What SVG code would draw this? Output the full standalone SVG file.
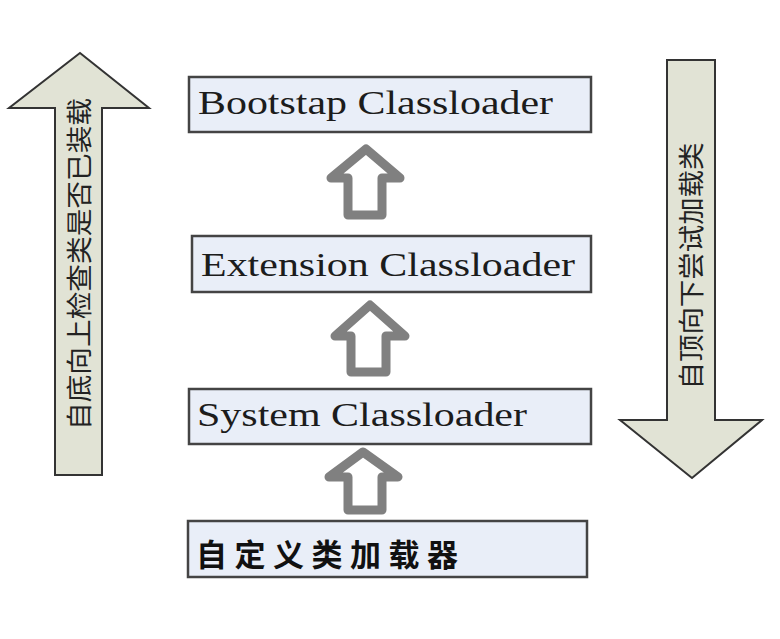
<svg xmlns="http://www.w3.org/2000/svg" width="780" height="639" viewBox="0 0 780 639">
<style>
.big{fill:#e1e3d5;stroke:#333;stroke-width:2;stroke-linejoin:miter}
.box{fill:#e9eef8;stroke:#444;stroke-width:2.5}
.hol{fill:#fff;stroke:#808080;stroke-width:9;stroke-linejoin:round}
.en{font-family:"Liberation Serif",serif;font-size:33px;fill:#1c1c1c}
.cjk{font-family:"Noto Sans CJK SC",sans-serif;font-size:26px;fill:#222}
.cjkb{font-family:"Noto Sans CJK SC",sans-serif;font-size:31px;font-weight:bold;fill:#111}
</style>
<rect width="780" height="639" fill="#fff"/>
<g id="left-arrow">
<path class="big" d="M80,53 L149,108 L102,108 L102,475 L55,475 L55,108 L9,108 Z"/>
<text class="cjk" transform="translate(77,264) rotate(-90)" text-anchor="middle" dominant-baseline="central" textLength="332" lengthAdjust="spacingAndGlyphs">自底向上检查类是否已装载</text>
</g>
<g id="right-arrow">
<path class="big" d="M667,60 L715,60 L715,420 L762,420 L692,478 L620,420 L667,420 Z"/>
<text class="cjk" transform="translate(689,266) rotate(-90)" text-anchor="middle" dominant-baseline="central" textLength="247" lengthAdjust="spacingAndGlyphs">自顶向下尝试加载类</text>
</g>
<g id="bootstrap">
<rect class="box" x="189" y="77" width="402" height="55"/>
<text class="en" x="198" y="114" textLength="355" lengthAdjust="spacingAndGlyphs">Bootstap Classloader</text>
</g>
<g id="extension">
<rect class="box" x="192" y="236" width="399" height="56"/>
<text class="en" x="201" y="276" textLength="374" lengthAdjust="spacingAndGlyphs">Extension Classloader</text>
</g>
<g id="system">
<rect class="box" x="189" y="389" width="402" height="55"/>
<text class="en" x="197" y="426" textLength="330" lengthAdjust="spacingAndGlyphs">System Classloader</text>
</g>
<g id="custom">
<rect class="box" x="188" y="521" width="399" height="56"/>
<text class="cjkb" x="196" y="552" dominant-baseline="central" textLength="262" lengthAdjust="spacing">自定义类加载器</text>
</g>
<g id="connectors">
<path class="hol" d="M366,149 L400,178 L382,178 L382,215 L348,215 L348,178 L331,178 Z"/>
<path class="hol" d="M370,305 L405,336 L386,336 L386,372 L351,372 L351,336 L335,336 Z"/>
<path class="hol" d="M363,452 L398,477 L382,477 L382,510 L348,510 L348,477 L329,477 Z"/>
</g>
</svg>
